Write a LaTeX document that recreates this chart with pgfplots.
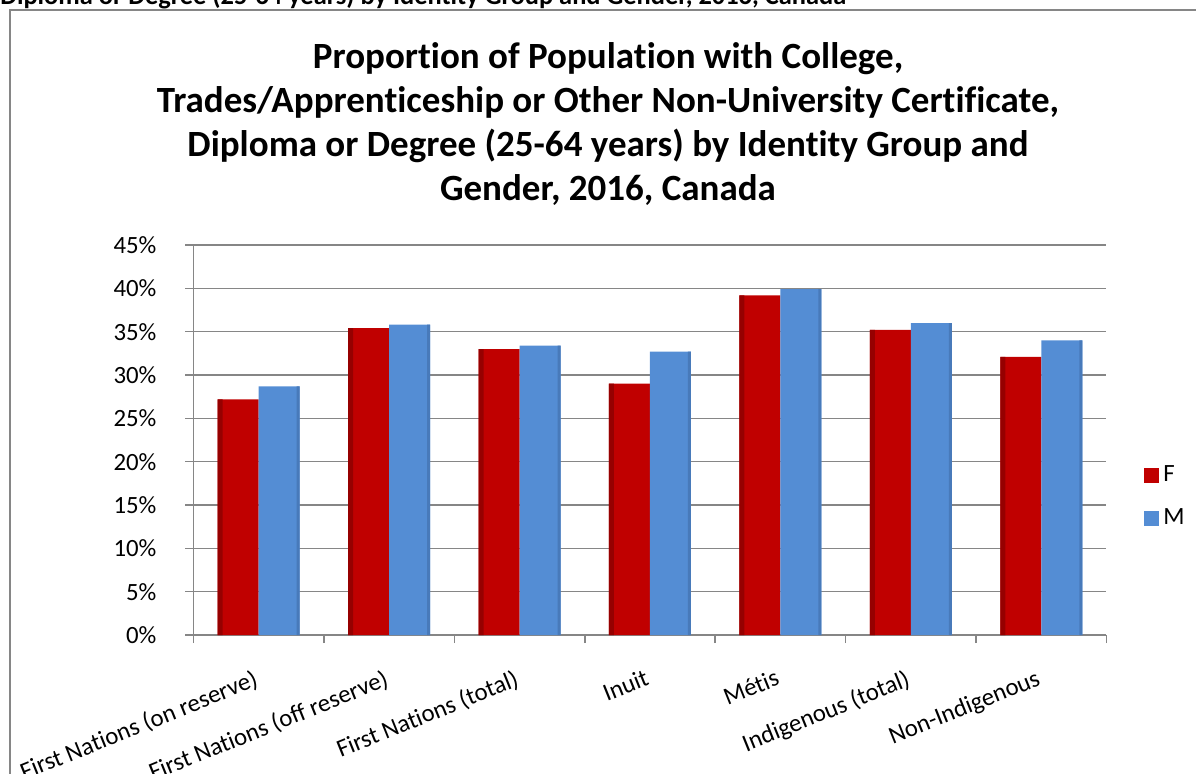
\documentclass[border=0pt]{standalone}
\usepackage{fontspec}
\setmainfont{Carlito}[Ligatures={NoCommon}]
\usepackage{pgfplots}
\pgfplotsset{compat=1.18}

\definecolor{barred}{RGB}{192,0,0}
\definecolor{barreddark}{RGB}{150,0,0}
\definecolor{barblue}{RGB}{84,141,212}
\definecolor{barbluedark}{RGB}{72,122,186}
\definecolor{gridgray}{RGB}{134,134,134}

\begin{document}
\begin{tikzpicture}[x=1pt,y=1pt]
\useasboundingbox (0,0) rectangle (598,386.5);
\begin{scope}
\clip (0,0) rectangle (598,386.5);
\node[anchor=base west, inner sep=0pt, font=\bfseries\fontsize{13.2}{15}\selectfont] at (0,384) {Diploma or Degree (25-64 years) by Identity Group and Gender, 2016, Canada};
\draw[gridgray, line width=0.8pt] (5,-5) -- (5,381.5) -- (605,381.5);
\end{scope}
\node[align=center, inner sep=0pt, font=\bfseries\fontsize{18.5}{22}\selectfont] at (304,324.5) {Proportion of Population with College,\\Trades/Apprenticeship or Other Non-University Certificate,\\Diploma or Degree (25-64 years) by Identity Group and\\Gender, 2016, Canada};
\begin{axis}[
  at={(96.75pt,69pt)}, anchor=south west,
  scale only axis, width=456.5pt, height=195pt,
  xmin=-0.5, xmax=6.5, ymin=0, ymax=45,
  ybar=0pt, bar width=20.5pt,
  axis x line*=bottom, axis y line*=left,
  axis line style={gridgray, line width=0.75pt, -},
  ymajorgrids, grid style={gridgray, line width=0.75pt},
  ytick={0,5,...,45},
  tick align=outside, major tick length=4pt, minor tick length=4pt,
  tick style={gridgray, line width=0.75pt},
  xtick={0,...,6},
  major x tick style={draw=none},
  minor xtick={-0.5,0.5,...,6.5},
  xticklabels={First Nations (on reserve),First Nations (off reserve),First Nations (total),Inuit,Métis,Indigenous (total),Non-Indigenous},
  xticklabel style={font=\fontsize{12.4}{14}\selectfont, yshift=-12.5pt, xshift=-3pt, rotate=22, anchor=north east, inner sep=0pt},
  /pgf/number format/assume math mode=true,
  yticklabel={\pgfmathprintnumber{\tick}\%},
  yticklabel style={font=\fontsize{12.4}{14}\selectfont, xshift=-11pt},
  legend style={at={(1.041,0.355)}, anchor=west, draw=none, fill=none, inner sep=0pt,
    font=\fontsize{12.4}{14}\selectfont, row sep=8pt},
  legend cell align=left,
  legend image code/.code={\path[#1] (0pt,-3.75pt) rectangle (7.5pt,3.75pt);},
]
\addplot[draw=none, fill=barred, bar shift=-10.25pt] coordinates {(0,27.2) (1,35.4) (2,33.0) (3,29.0) (4,39.2) (5,35.2) (6,32.1)};
\addplot[draw=none, fill=barblue, bar shift=10.25pt] coordinates {(0,28.7) (1,35.8) (2,33.4) (3,32.7) (4,39.9) (5,36.0) (6,34.0)};
\legend{F,M}
\addplot[forget plot, draw=none, fill=barreddark, bar width=2.5pt, bar shift=-19.25pt] coordinates {(0,27.2) (1,35.4) (2,33.0) (3,29.0) (4,39.2) (5,35.2) (6,32.1)};
\addplot[forget plot, draw=none, fill=barbluedark, bar width=1.5pt, bar shift=19.75pt] coordinates {(0,28.7) (1,35.8) (2,33.4) (3,32.7) (4,39.9) (5,36.0) (6,34.0)};
\end{axis}
\end{tikzpicture}
\end{document}
